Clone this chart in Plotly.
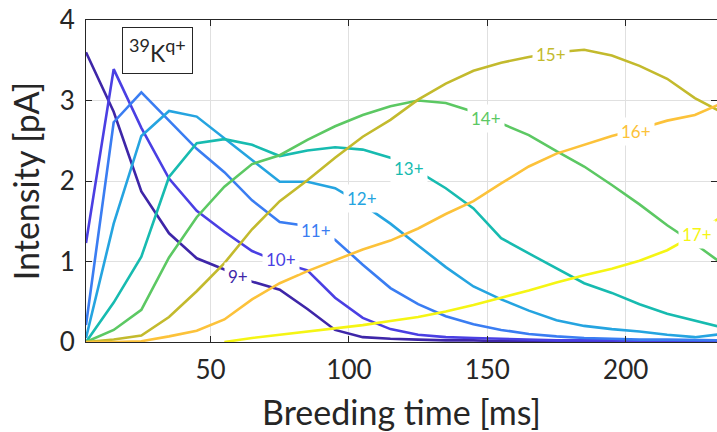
import plotly.graph_objects as go

# Breeding time samples [ms]
t = [5, 15, 25, 35, 45, 55, 65, 75, 85, 95, 105, 115, 125, 135, 145, 155,
     165, 175, 185, 195, 205, 215, 225, 235]

charge_labels = ["9+", "10+", "11+", "12+", "13+", "14+", "15+", "16+", "17+"]

q9 = [3.60, 2.86, 1.87, 1.35, 1.04, 0.90, 0.75, 0.65, 0.41, 0.15, 0.06, 0.04,
      0.03, 0.02, 0.02, 0.01, 0.01, 0.01, 0.01, 0.01, 0.01, 0.01, 0.01, 0.01]
q10 = [1.23, 3.39, 2.66, 2.03, 1.63, 1.37, 1.13, 0.99, 0.89, 0.55, 0.30, 0.16,
       0.09, 0.06, 0.05, 0.04, 0.03, 0.02, 0.02, 0.02, 0.01, 0.01, 0.01, 0.01]
q11 = [0.21, 2.73, 3.10, 2.75, 2.40, 2.11, 1.76, 1.49, 1.44, 1.27, 0.96, 0.67,
       0.47, 0.32, 0.22, 0.15, 0.10, 0.07, 0.05, 0.04, 0.03, 0.03, 0.02, 0.02]
q12 = [0.05, 1.47, 2.56, 2.87, 2.80, 2.53, 2.26, 1.99, 1.99, 1.91, 1.71, 1.47,
       1.20, 0.93, 0.69, 0.53, 0.39, 0.27, 0.20, 0.16, 0.13, 0.09, 0.06, 0.10]
q13 = [0.00, 0.49, 1.06, 2.05, 2.47, 2.52, 2.45, 2.31, 2.38, 2.42, 2.39, 2.29,
       2.12, 1.91, 1.66, 1.29, 1.10, 0.92, 0.73, 0.61, 0.47, 0.35, 0.26, 0.18]
q14 = [0.00, 0.15, 0.40, 1.05, 1.55, 1.93, 2.21, 2.32, 2.51, 2.68, 2.82, 2.93,
       3.00, 2.97, 2.86, 2.72, 2.57, 2.37, 2.18, 1.95, 1.71, 1.45, 1.22, 0.97]
q15 = [0.00, 0.03, 0.08, 0.31, 0.63, 0.98, 1.40, 1.75, 2.01, 2.29, 2.55, 2.76,
       3.01, 3.21, 3.37, 3.47, 3.54, 3.60, 3.63, 3.56, 3.43, 3.27, 3.03, 2.85]
q16 = [0.00, 0.00, 0.01, 0.07, 0.14, 0.28, 0.53, 0.73, 0.88, 1.02, 1.15, 1.26,
       1.41, 1.59, 1.75, 1.97, 2.18, 2.34, 2.45, 2.56, 2.65, 2.75, 2.82, 2.97]
q17 = [None, None, None, None, None, 0.00, 0.05, 0.09, 0.13, 0.17, 0.21, 0.26,
       0.31, 0.38, 0.46, 0.55, 0.64, 0.74, 0.83, 0.91, 1.01, 1.14, 1.33, 1.57]

# Inline label anchor positions (time, intensity)
label_t = [59.9, 75.4, 88.1, 104.7, 121.7, 149.5, 173.0, 203.7, 225.7]
label_i = [0.81, 1.02, 1.39, 1.78, 2.16, 2.78, 3.57, 2.61, 1.33]

series = [q9, q10, q11, q12, q13, q14, q15, q16, q17]
colors = ["#3e26a8", "#4a3fe3", "#3a7df2", "#25a4e0", "#17bbb0",
          "#5cc863", "#c3ba2d", "#fcc23a", "#f5f514"]

FONT = "Lato"
TXT = "#262626"

fig = go.Figure()
for name, ys, c in zip(charge_labels, series, colors):
    fig.add_trace(go.Scatter(x=t, y=ys, mode="lines", name=name,
                             line=dict(color=c, width=2.6),
                             connectgaps=False, showlegend=False,
                             hoverinfo="skip"))

for name, lx, ly, c in zip(charge_labels, label_t, label_i, colors):
    fig.add_annotation(x=lx, y=ly, xref="x", yref="y", text=name,
                       xanchor="center", yanchor="middle",
                       showarrow=False, bgcolor="white", borderpad=3,
                       font=dict(family=FONT, size=17, color=c))

fig.add_annotation(x=0.113, y=0.905, xref="paper", yref="paper",
                   xanchor="center", yanchor="middle",
                   text="<sup><span style='font-size:18px'>39</span></sup>K"
                        "<sup><span style='font-size:18px'>q+</span></sup>",
                   showarrow=False,
                   bgcolor="white", bordercolor="#262626", borderwidth=1,
                   borderpad=6, font=dict(family=FONT, size=23, color=TXT))

axis_common = dict(showline=True, linecolor=TXT, linewidth=1, mirror="ticks",
                   ticks="inside", ticklen=6, tickcolor=TXT,
                   showgrid=True, gridcolor="#e0e0e0", gridwidth=1,
                   zeroline=False, ticklabelstandoff=5, automargin=False,
                   tickfont=dict(family=FONT, size=26, color=TXT))

fig.update_xaxes(range=[5, 233], tickvals=[50, 100, 150, 200],
                 title=dict(text="Breeding time [ms]", standoff=33,
                            font=dict(family=FONT, size=34, color=TXT)),
                 **axis_common)
fig.update_yaxes(range=[0, 4], tickvals=[0, 1, 2, 3, 4],
                 title=dict(text="Intensity [pA]", standoff=9,
                            font=dict(family=FONT, size=34, color=TXT)),
                 **axis_common)

fig.update_layout(width=717, height=432,
                  margin=dict(l=86, r=0, t=20, b=90),
                  paper_bgcolor="white", plot_bgcolor="white",
                  font=dict(family=FONT, color=TXT))

fig.write_html("out.html", config={"displayModeBar": False},
               post_script="document.body.style.margin='0px';"
                           "document.body.style.overflow='hidden';")
